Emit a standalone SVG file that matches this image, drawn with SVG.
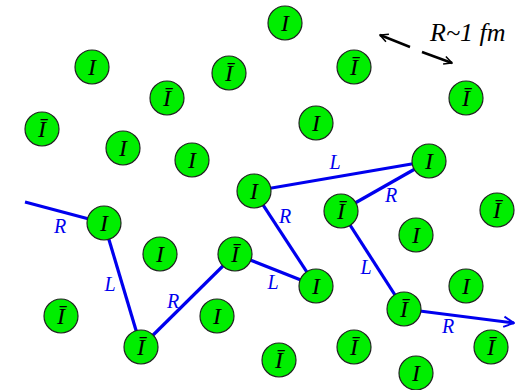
<svg xmlns="http://www.w3.org/2000/svg" width="517" height="390" viewBox="0 0 517 390">
<style>
.n circle{fill:#00ee00;stroke:#222;stroke-width:1.2}
.n text{font-family:"Liberation Serif",serif;font-style:italic;font-size:24px;fill:#000;text-anchor:middle}
.c line{stroke:#0000ee;stroke-width:3.2;fill:none}
.lb{font-family:"Liberation Serif",serif;font-style:italic;font-size:20px;fill:#0000ee;text-anchor:middle}
.blk{stroke:#000;stroke-width:2.5;fill:none}
</style>
<defs>
<marker id="ab" viewBox="0 0 10 10" refX="9" refY="5" markerWidth="4" markerHeight="4" orient="auto" markerUnits="strokeWidth">
<path d="M1,1 L9,5 L1,9" fill="none" stroke="#0000ee" stroke-width="1.5"/>
</marker>
<marker id="ak" viewBox="0 0 10 10" refX="9" refY="5" markerWidth="4" markerHeight="4" orient="auto" markerUnits="strokeWidth">
<path d="M1,1 L9,5 L1,9" fill="none" stroke="#000" stroke-width="1.5"/>
</marker>
</defs>
<g id="connectors" class="c">
<line x1="25" y1="202" x2="104" y2="223"/>
<line x1="104" y1="223" x2="141" y2="347"/>
<line x1="141" y1="347" x2="235" y2="254"/>
<line x1="235" y1="254" x2="316" y2="286"/>
<line x1="316" y1="286" x2="254" y2="191"/>
<line x1="254" y1="191" x2="429" y2="161"/>
<line x1="429" y1="161" x2="341" y2="211"/>
<line x1="341" y1="211" x2="404" y2="309"/>
<line x1="404" y1="309" x2="514" y2="323" marker-end="url(#ab)"/>
</g>
<g id="labels">
<text class="lb" x="60" y="233">R</text>
<text class="lb" x="110" y="291">L</text>
<text class="lb" x="173" y="308">R</text>
<text class="lb" x="273" y="289">L</text>
<text class="lb" x="285" y="223">R</text>
<text class="lb" x="335" y="169">L</text>
<text class="lb" x="391" y="202">R</text>
<text class="lb" x="366" y="274">L</text>
<text class="lb" x="448" y="333">R</text>
</g>
<g id="scale">
<line class="blk" x1="410" y1="47" x2="380" y2="35" marker-end="url(#ak)"/>
<line class="blk" x1="422" y1="52" x2="452" y2="63" marker-end="url(#ak)"/>
<text x="430" y="41" font-family="Liberation Serif, serif" font-style="italic" font-size="26" fill="#000">R~1 fm</text>
</g>
<g id="n1" class="n"><circle cx="92" cy="67" r="17"/><text x="92" y="75">I</text></g>
<g id="n2" class="n"><circle cx="229" cy="73" r="17"/><text x="229" y="81">Ī</text></g>
<g id="n3" class="n"><circle cx="167" cy="98" r="17"/><text x="167" y="106">Ī</text></g>
<g id="n4" class="n"><circle cx="42" cy="129" r="17"/><text x="42" y="137">Ī</text></g>
<g id="n5" class="n"><circle cx="123" cy="148" r="17"/><text x="123" y="156">I</text></g>
<g id="n6" class="n"><circle cx="192" cy="160" r="17"/><text x="192" y="168">I</text></g>
<g id="n7" class="n"><circle cx="285" cy="23" r="17"/><text x="285" y="31">I</text></g>
<g id="n8" class="n"><circle cx="354" cy="67" r="17"/><text x="354" y="75">Ī</text></g>
<g id="n9" class="n"><circle cx="466" cy="98" r="17"/><text x="466" y="106">Ī</text></g>
<g id="n10" class="n"><circle cx="316" cy="123" r="17"/><text x="316" y="131">I</text></g>
<g id="n11" class="n"><circle cx="429" cy="161" r="17"/><text x="429" y="169">I</text></g>
<g id="n12" class="n"><circle cx="254" cy="191" r="17"/><text x="254" y="199">I</text></g>
<g id="n13" class="n"><circle cx="104" cy="223" r="17"/><text x="104" y="231">I</text></g>
<g id="n14" class="n"><circle cx="160" cy="254" r="17"/><text x="160" y="262">I</text></g>
<g id="n15" class="n"><circle cx="235" cy="254" r="17"/><text x="235" y="262">Ī</text></g>
<g id="n16" class="n"><circle cx="61" cy="316" r="17"/><text x="61" y="324">Ī</text></g>
<g id="n17" class="n"><circle cx="217" cy="316" r="17"/><text x="217" y="324">I</text></g>
<g id="n18" class="n"><circle cx="141" cy="347" r="17"/><text x="141" y="355">Ī</text></g>
<g id="n19" class="n"><circle cx="341" cy="211" r="17"/><text x="341" y="219">Ī</text></g>
<g id="n20" class="n"><circle cx="497" cy="210" r="17"/><text x="497" y="218">Ī</text></g>
<g id="n21" class="n"><circle cx="416" cy="235" r="17"/><text x="416" y="243">I</text></g>
<g id="n22" class="n"><circle cx="316" cy="286" r="17"/><text x="316" y="294">I</text></g>
<g id="n23" class="n"><circle cx="466" cy="286" r="17"/><text x="466" y="294">I</text></g>
<g id="n24" class="n"><circle cx="404" cy="309" r="17"/><text x="404" y="317">Ī</text></g>
<g id="n25" class="n"><circle cx="279" cy="360" r="17"/><text x="279" y="368">Ī</text></g>
<g id="n26" class="n"><circle cx="354" cy="347" r="17"/><text x="354" y="355">Ī</text></g>
<g id="n27" class="n"><circle cx="416" cy="373" r="17"/><text x="416" y="381">I</text></g>
<g id="n28" class="n"><circle cx="491" cy="347" r="17"/><text x="491" y="355">Ī</text></g>
</svg>
